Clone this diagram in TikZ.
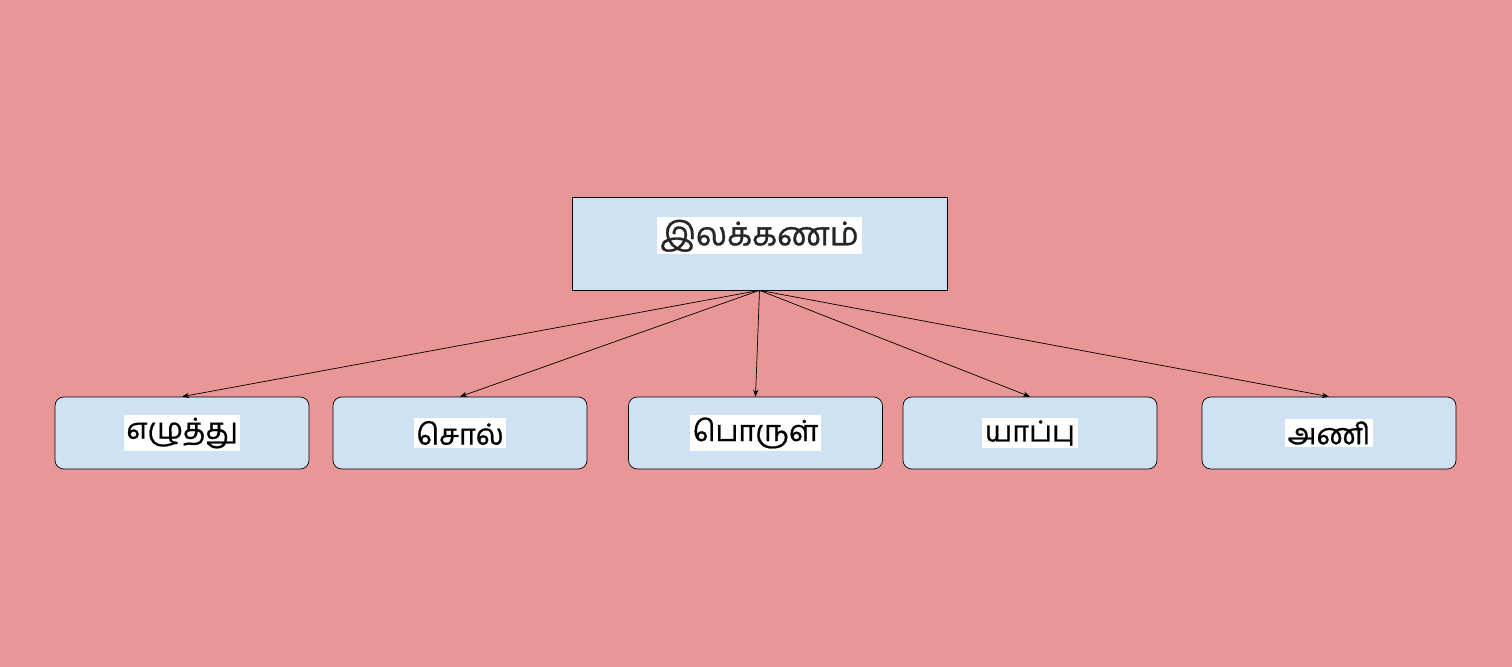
\documentclass[tikz,border=0pt]{standalone}
\usepackage{fontspec}
\newfontfamily\tamilfont[Script=Tamil, FakeBold=0.8]{Hind Madurai}
\usetikzlibrary{arrows.meta, positioning}
\definecolor{bgpink}{RGB}{233,150,150}
\definecolor{boxblue}{RGB}{207,226,243}
\newcommand{\hlbox}[1]{{\setlength{\fboxsep}{1.5pt}\colorbox{white}{#1}}}
\tikzset{
    parent/.style={
        rectangle, draw=black, thin,
        minimum width=7.5cm, minimum height=1.86cm,
        fill=boxblue, font=\tamilfont\fontsize{18.5}{22}\selectfont,
        text=black!85
    },
    leaf/.style={
        rectangle, draw=black, thin, rounded corners=5pt,
        minimum width=5.08cm, minimum height=1.44cm,
        fill=boxblue, font=\tamilfont\fontsize{16.5}{20}\selectfont
    },
    edge/.style={draw=black, thin, -{Stealth[length=4pt, width=3pt]}}
}

\begin{document}
\begin{tikzpicture}

% background and page size
\fill[bgpink] (0,0) rectangle (30.24,-13.34);
\useasboundingbox (0,0) rectangle (30.24,-13.34);

% root
\node[parent] (ilakkanam) at (15.19,-4.87) {\raisebox{-1pt}[0pt][0pt]{\hlbox{இலக்கணம்}}};

% five parts
\node[leaf] (ezhuthu) at (3.64,-8.66) {\hlbox{எழுத்து}};
\node[leaf] (sol) at (9.20,-8.66) {\hlbox{சொல்}};
\node[leaf] (porul) at (15.11,-8.66) {\hlbox{பொருள்}};
\node[leaf] (yappu) at (20.60,-8.66) {\hlbox{யாப்பு}};
\node[leaf] (ani) at (26.58,-8.66) {\hlbox{அணி}};

\foreach \part in {ezhuthu, sol, porul, yappu, ani}
    \draw[edge] (ilakkanam.south) -- (\part.north);

\end{tikzpicture}
\end{document}
